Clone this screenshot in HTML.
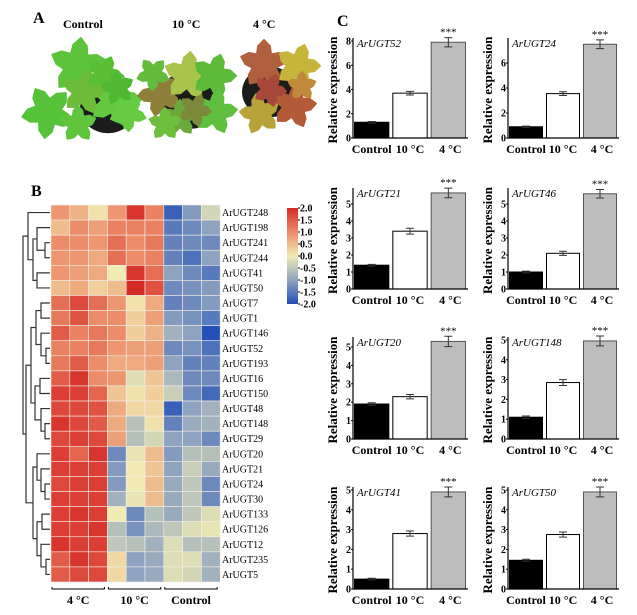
<!DOCTYPE html>
<html><head><meta charset="utf-8">
<style>
html,body{margin:0;padding:0;background:#fff;}
svg{display:block;font-family:"Liberation Serif",serif;}
</style></head>
<body>
<svg id="fig" width="637" height="615" viewBox="0 0 637 615" xmlns="http://www.w3.org/2000/svg">
  <g id="panelA">
    <text x="33" y="23" font-size="16" font-weight="bold">A</text>
    <text x="63" y="28" font-size="12" font-weight="bold">Control</text>
    <text x="172" y="28" font-size="12" font-weight="bold">10 °C</text>
    <text x="253" y="28" font-size="12" font-weight="bold">4 °C</text>
  </g>
  <g id="panelB">
    <text x="31" y="196" font-size="16" font-weight="bold">B</text>
  </g>
  <g id="panelC">
    <text x="337" y="26" font-size="16" font-weight="bold">C</text>
  </g>
  <defs>
    <linearGradient id="cbar" x1="0" y1="0" x2="0" y2="1">
      <stop offset="0" stop-color="#d52b27"/>
      <stop offset="0.25" stop-color="#ec8c68"/>
      <stop offset="0.5" stop-color="#f1ebb4"/>
      <stop offset="0.75" stop-color="#8da3bf"/>
      <stop offset="1" stop-color="#2450b8"/>
    </linearGradient>
  </defs>
</svg>
<script>
const NS="http://www.w3.org/2000/svg";
function mk(parent,tag,attrs,txt){const e=document.createElementNS(NS,tag);for(const k in attrs)e.setAttribute(k,attrs[k]);if(txt!==undefined)e.textContent=txt;parent.appendChild(e);return e;}

/* ---------- Panel A : plant photos (illustration) ---------- */
const A=document.getElementById('panelA');
function leaf(g,cx,cy,r,rot,fill){
  let d="";const n=5;
  for(let i=0;i<n*4;i++){
    const a=rot+Math.PI*2*i/(n*4);
    const m=i%4; const rr=m===0?r:(m===2?r*0.5:r*0.78);
    d+=(i?"L":"M")+(cx+rr*Math.sin(a)).toFixed(1)+","+(cy-rr*Math.cos(a)).toFixed(1);
  }
  const p=mk(g,'path',{d:d+"Z",fill:fill,stroke:fill,'stroke-width':2,'stroke-linejoin':'round'});
  
  
}
const pots=[[108,108,28],[190,100,32],[270,92,28]];
pots.forEach(p=>{const e=mk(A,'ellipse',{cx:p[0],cy:p[1],rx:p[2],ry:p[2]*0.9,fill:'#1c1c1c'});
  });
const leaves=[
 [78,66,28,0.1,'#5cc43a'],[48,112,26,-0.5,'#55c23a'],[115,100,26,0.3,'#62c940'],[84,92,22,0.2,'#6cbc3a'],
 [128,113,18,0.6,'#66cc44'],[104,74,18,0.4,'#58bf35'],[78,124,18,0,'#5fc53c'],[118,88,16,-0.2,'#4fb832'],
 [160,94,22,-0.4,'#8f7e3a'],[188,76,24,0.1,'#a9c44a'],[214,76,22,0.3,'#5cb93a'],[215,112,22,0.2,'#5fc040'],
 [180,118,18,0,'#6ba83a'],[153,74,16,-0.6,'#63bb3c'],[195,110,16,0.4,'#7b8a3a'],[165,124,16,0,'#6fbf3f'],
 [264,64,24,0,'#b0603e'],[298,66,22,0.3,'#c7b43a'],[260,114,20,-0.2,'#b8a23a'],[294,106,22,0.2,'#b35a38'],
 [270,90,16,0.4,'#a8483a'],[302,86,14,0,'#c08a3a']
];
leaves.forEach(l=>leaf(A,l[0],l[1],l[2],l[3],l[4]));

/* ---------- Panel B : heatmap ---------- */
const genes=["ArUGT248","ArUGT198","ArUGT241","ArUGT244","ArUGT41","ArUGT50","ArUGT7","ArUGT1","ArUGT146","ArUGT52","ArUGT193","ArUGT16","ArUGT150","ArUGT48","ArUGT148","ArUGT29","ArUGT20","ArUGT21","ArUGT24","ArUGT30","ArUGT133","ArUGT126","ArUGT12","ArUGT235","ArUGT5"];
const groups=["4 °C","10 °C","Control"];
const heat=[
[0.9,0.6,0.1,0.9,1.9,1.1,-1.8,-1.1,-0.3],
[0.5,1.0,0.8,1.1,1.1,1.1,-1.5,-1.3,-1.0],
[1.0,1.0,0.9,1.3,1.0,1.2,-1.4,-1.3,-1.3],
[0.9,0.9,0.7,1.3,1.0,1.1,-1.4,-1.6,-1.0],
[0.9,0.8,0.7,0.0,1.9,1.3,-1.0,-1.3,-1.5],
[0.5,0.7,0.3,0.5,2.0,1.6,-1.3,-1.2,-1.1],
[1.3,1.7,1.3,0.9,0.1,0.7,-1.4,-1.3,-1.1],
[1.2,1.6,1.0,1.0,0.3,0.8,-1.1,-1.2,-1.5],
[1.5,1.1,1.2,1.0,0.3,0.6,-0.8,-1.0,-2.0],
[1.1,1.1,1.2,0.9,0.8,0.8,-1.3,-1.2,-1.6],
[1.2,1.5,1.0,0.7,0.7,0.8,-1.0,-1.4,-1.4],
[1.5,1.9,1.0,0.9,-0.2,0.4,-0.7,-1.3,-1.3],
[1.8,1.8,1.4,0.4,0.1,0.3,-0.4,-1.3,-1.7],
[1.7,1.7,1.6,0.7,0.2,0.2,-1.8,-1.0,-0.8],
[1.9,1.7,1.5,0.7,-0.6,0.1,-1.4,-0.9,-0.8],
[1.7,1.8,1.7,0.8,-0.6,-0.3,-1.0,-1.0,-1.3],
[1.8,1.4,1.9,-1.3,-0.1,0.5,-1.1,-0.6,-0.6],
[1.8,1.8,1.8,-1.1,0.0,0.4,-1.0,-0.4,-0.9],
[1.7,1.8,1.8,-1.1,0.0,0.5,-0.9,-0.5,-1.3],
[1.8,1.8,1.8,-0.8,-0.1,0.5,-0.9,-0.5,-1.3],
[1.8,1.9,1.8,0.0,-1.3,-0.6,-0.9,-0.5,-0.2],
[1.8,1.8,1.9,-0.6,-1.2,-0.7,-0.5,-0.2,-0.1],
[1.9,1.8,1.8,-0.5,-0.6,-0.8,-0.2,-0.6,-0.6],
[1.5,1.9,1.7,0.2,-1.0,-0.9,-0.2,-0.2,-0.8],
[1.5,1.7,1.7,0.2,-1.0,-0.9,-0.2,-0.3,-0.8]
];
const cbTicks=["2.0","1.5","1.0","0.5","0.0","-0.5","-1.0","-1.5","-2.0"];

const B=document.getElementById('panelB');
const hx0=51,hy0=205,cw=18.8,rh=377/25;
const stops=[[-2,[36,80,184]],[-1,[141,163,191]],[0,[241,235,180]],[1,[236,140,104]],[2,[213,43,39]]];
function col(v){v=Math.max(-2,Math.min(2,v));for(let i=0;i<4;i++){const a=stops[i],b=stops[i+1];if(v<=b[0]){const t=(v-a[0])/(b[0]-a[0]);const c=a[1].map((x,k)=>Math.round(x+(b[1][k]-x)*t));return`rgb(${c})`;}}return 'rgb(213,43,39)';}
const cellX=j=>hx0+j*cw, cellY=i=>hy0+i*rh;
heat.forEach((row,i)=>{
  row.forEach((v,j)=>{
    const r=mk(B,'rect',{x:cellX(j),y:cellY(i),width:cw,height:rh,fill:col(v),stroke:'#f3eee6','stroke-width':0.6});
    
    
  });
  const t=mk(B,'text',{x:222,y:cellY(i)+rh/2+3.5,'font-size':10},genes[i]);
  
  
});
groups.forEach((g,k)=>{
  const x1=cellX(k*3)+1,x2=cellX(k*3+3)-3,y=589;
  const p=mk(B,'path',{d:`M${x1},${y-2}V${y}H${x2}V${y-2}`,stroke:'#000','stroke-width':1,fill:'none'});
  
  
  const t=mk(B,'text',{x:(x1+x2)/2,y:604,'font-size':12,'font-weight':'bold','text-anchor':'middle'},g);
  
  
});
// dendrogram
const tree={x:23,c:[{x:28,c:[0,{x:33,c:[{x:37,c:[1,{x:45,c:[2,3]}]},{x:37,c:[4,5]}]}]},
 {x:26,c:[{x:31,c:[{x:36,c:[{x:41,c:[6,7]},{x:41,c:[8,{x:46,c:[9,10]}]}]},{x:35,c:[{x:40,c:[11,12]},{x:41,c:[13,{x:45,c:[14,15]}]}]}]},
  {x:33,c:[{x:37,c:[16,{x:41,c:[17,{x:45,c:[18,19]}]}]},{x:37,c:[{x:42,c:[20,21]},{x:41,c:[22,{x:46,c:[23,24]}]}]}]}]}]};
let dd="";
function walk(n){if(typeof n==='number')return{x:hx0-1,y:cellY(n)+rh/2};
  const a=walk(n.c[0]),b=walk(n.c[1]);
  dd+=`M${a.x},${a.y}H${n.x}V${b.y}H${b.x}`;
  return{x:n.x,y:(a.y+b.y)/2};}
walk(tree);
const dp=mk(B,'path',{d:dd,stroke:'#333','stroke-width':1.2,fill:'none'});


// colorbar
const cb=mk(B,'rect',{x:287,y:208,width:11,height:96,fill:'url(#cbar)'});


cbTicks.forEach((t,i)=>{
  const y=208+i*12;
  const tk=mk(B,'line',{x1:298,x2:300,y1:y,y2:y,stroke:'#000'});
  
  
  const tx=mk(B,'text',{x:300,y:y+3.5,'font-size':10,'font-weight':'bold'},t);
  
  
});

/* ---------- Panel C : bar charts ---------- */
const barGenes=["ArUGT52","ArUGT24","ArUGT21","ArUGT46","ArUGT20","ArUGT148","ArUGT41","ArUGT50"];
const conditions=["Control","10 °C","4 °C"];
const controlVals=[1.3,0.9,1.4,1.0,1.9,1.1,0.5,1.45];
const tenVals=[3.7,3.55,3.4,2.1,2.3,2.85,2.8,2.75];
const fourVals=[7.9,7.5,5.65,5.6,5.3,4.95,4.9,4.9];
const controlErr=[0.06,0.05,0.05,0.05,0.07,0.06,0.04,0.05];
const tenErr=[0.15,0.15,0.17,0.12,0.12,0.15,0.13,0.13];
const fourErr=[0.38,0.35,0.28,0.25,0.28,0.25,0.25,0.25];
const axisMax=[8.25,8.0,5.94,5.94,5.54,5.15,5.15,5.15];
const tickSets=[[0,2,4,6,8],[0,2,4,6],[0,1,2,3,4,5],[0,1,2,3,4,5],[0,1,2,3,4,5],[0,1,2,3,4,5],[0,1,2,3,4,5],[0,1,2,3,4,5]];

const C=document.getElementById('panelC');
const colX=[353,508],colW=[115,111],rowBase=[138,289,439,589],rowTop=[38,188,337,487];
const fills=['#000','#fff','#bdbdbd'];
barGenes.forEach((gname,k)=>{
  const g=mk(C,'g',{});
  
  
  const x0=colX[k%2],w=colW[k%2],yb=rowBase[Math.floor(k/2)],yt=rowTop[Math.floor(k/2)];
  const ys=v=>yb-(v/axisMax[k])*(yb-yt);
  const vals=[controlVals[k],tenVals[k],fourVals[k]],errs=[controlErr[k],tenErr[k],fourErr[k]];
  const slot=w/3;
  vals.forEach((v,i)=>{
    const bx=x0+i*slot+1.5,bw=slot-4;
    const r=mk(g,'rect',{x:bx,y:ys(v),width:bw,height:yb-ys(v),fill:fills[i],stroke:i===2?'#555':'#000','stroke-width':1});
    
    
    const cx=bx+bw/2,e1=ys(v+errs[i]),e2=ys(v-errs[i]);
    const eb=mk(g,'path',{d:`M${cx},${e1}V${e2}M${cx-4},${e1}H${cx+4}M${cx-4},${e2}H${cx+4}`,stroke:'#333','stroke-width':1,fill:'none'});
    
    
    const xl=mk(g,'text',{x:cx+(i===2?2:0),y:yb+15,'font-size':12,'font-weight':'bold','text-anchor':'middle'},conditions[i]);
    
    
    if(i===2){
      const st=mk(g,'text',{x:cx,y:e1-2,'font-size':11,'text-anchor':'middle'},'***');
      
      
    }
  });
  const ax=mk(g,'path',{d:`M${x0},${yt}V${yb}H${x0+w}`,stroke:'#000','stroke-width':1.2,fill:'none'});
  
  
  tickSets[k].forEach(t=>{
    const tl=mk(g,'line',{x1:x0-2,x2:x0,y1:ys(t),y2:ys(t),stroke:'#000'});
    
    
    const tt=mk(g,'text',{x:x0-2,y:ys(t)+3.5,'font-size':10,'font-weight':'bold','text-anchor':'end'},String(t));
    
    
  });
  const yl=mk(g,'text',{x:0,y:0,'font-size':13,'font-weight':'bold','text-anchor':'middle',transform:`translate(${x0-16},${(yt+yb)/2+2}) rotate(-90)`},'Relative expression');
  
  
  const gt=mk(g,'text',{x:x0+4,y:yt+9,'font-size':11,'font-style':'italic'},gname);
  
  
});
</script>
</body></html>
